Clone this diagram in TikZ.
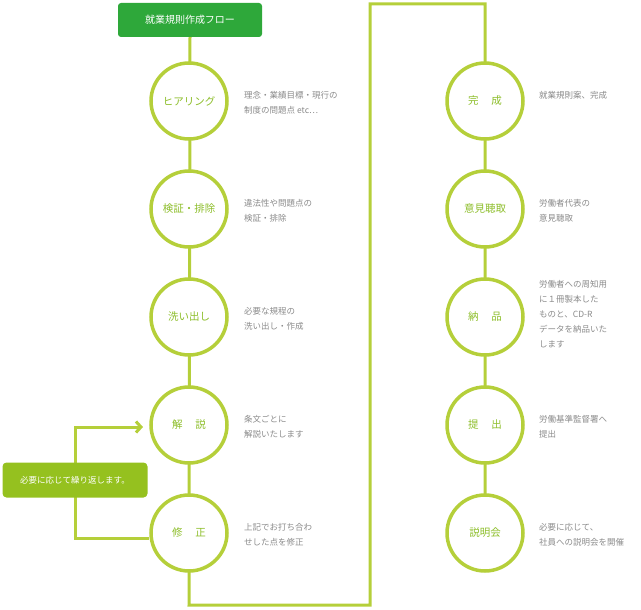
\documentclass[tikz,border=0pt]{standalone}
\usepackage{fontspec}
\newfontfamily\jp{Noto Sans CJK JP}
\usetikzlibrary{arrows.meta}
\definecolor{lg}{HTML}{B5CF3A}
\definecolor{tg}{HTML}{8DBE2A}
\definecolor{bx}{HTML}{95C11F}
\definecolor{dg}{HTML}{2EA83A}
\definecolor{gt}{HTML}{8A8A8A}
\begin{document}
\begin{tikzpicture}[x=1pt,y=-1pt,
  stepcirc/.style={circle,draw=lg,line width=3.5pt,fill=white,minimum size=76pt,inner sep=0pt,text=tg,font=\jp\fontsize{10.5}{12}\selectfont},
  desc/.style={anchor=north west,text=gt,font=\jp\fontsize{8.5}{15}\selectfont,align=left,inner sep=0pt},
  flow/.style={draw=lg,line width=3pt}]
\useasboundingbox (0,0) rectangle (641,610);
\node[fill=dg,rounded corners=3pt,minimum width=144pt,minimum height=34pt,text=white,font=\jp\fontsize{10}{12}\selectfont] (title) at (190,20) {就業規則作成フロー};
\coordinate (bl) at (189,605);
\coordinate (br) at (370,605);
\coordinate (tl) at (370,4);
\coordinate (tr) at (485,4);
\draw[flow] (title.south) -- (bl) -- (br) -- (tl) -- (tr) -- (485,533);
\node[stepcirc] (a1) at (189,101) {ヒアリング};
\node[stepcirc] (a2) at (189,209) {検証・排除};
\node[stepcirc] (a3) at (189,317) {洗い出し};
\node[stepcirc] (a4) at (189,425) {解\hspace{1.2em}説};
\node[stepcirc] (a5) at (189,533) {修\hspace{1.2em}正};
\node[stepcirc] (b1) at (485,101) {完\hspace{1.2em}成};
\node[stepcirc] (b2) at (485,209) {意見聴取};
\node[stepcirc] (b3) at (485,317) {納\hspace{1.2em}品};
\node[stepcirc] (b4) at (485,425) {提\hspace{1.2em}出};
\node[stepcirc] (b5) at (485,533) {説明会};
\node[desc] (d1) at (244,91) {理念・業績目標・現行の\\制度の問題点 etc…};
\node[desc] (d2) at (244,199) {違法性や問題点の\\検証・排除};
\node[desc] (d3) at (244,307) {必要な規程の\\洗い出し・作成};
\node[desc] (d4) at (244,415) {条文ごとに\\解説いたします};
\node[desc] (d5) at (244,523) {上記でお打ち合わ\\せした点を修正};
\node[desc] (e1) at (539,91) {就業規則案、完成};
\node[desc] (e2) at (539,199) {労働者代表の\\意見聴取};
\node[desc] (e3) at (539,280) {労働者への周知用\\に１冊製本した\\ものと、CD-R\\データを納品いた\\します};
\node[desc] (e4) at (539,415) {労働基準監督署へ\\提出};
\node[desc] (e5) at (539,523) {必要に応じて、\\社員への説明会を開催};
\coordinate (l1) at (75,538);
\coordinate (l2) at (75,427);
\draw[flow,-{Straight Barb[length=5pt,width=11pt,line width=3pt]}] (a5.west |- l1) -- (l1) -- (l2) -- (143,427);
\node[fill=bx,rounded corners=4pt,minimum width=145pt,minimum height=35pt,text=white,font=\jp\fontsize{8.5}{10}\selectfont] (rep) at (75,480) {必要に応じて繰り返します。};
\end{tikzpicture}
\end{document}
